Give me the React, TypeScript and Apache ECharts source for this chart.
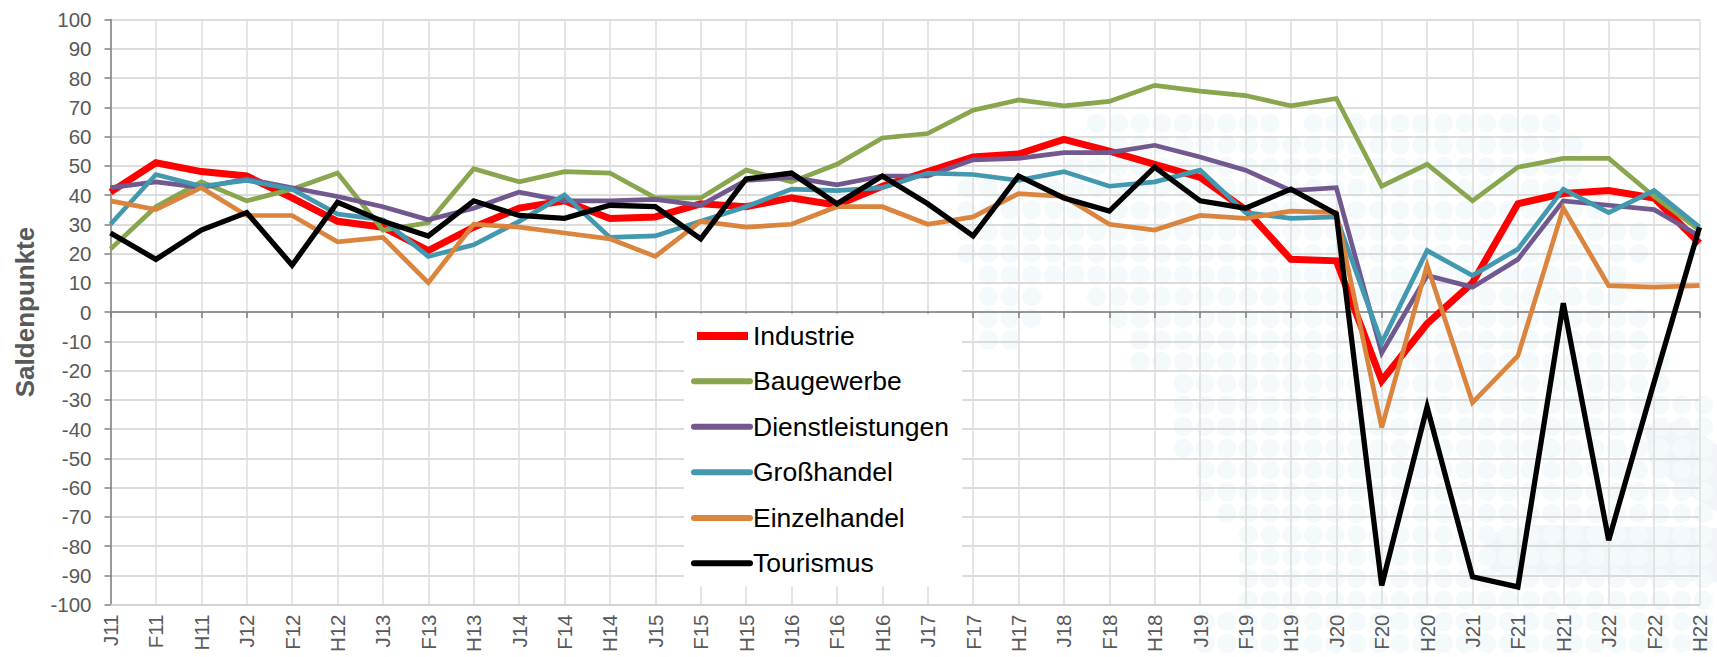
import React, { useEffect, useRef } from "react";
import * as echarts from "echarts";

const categories = ["J11","F11","H11","J12","F12","H12","J13","F13","H13","J14","F14","H14","J15","F15","H15","J16","F16","H16","J17","F17","H17","J18","F18","H18","J19","F19","H19","J20","F20","H20","J21","F21","H21","J22","F22","H22"];
const industrie = [41,51,48,46.5,39,31,29,21,29,35.5,38,32,32.5,37,36,39,36.5,43,48,53,54,59,55,50.5,46,35,18,17.5,-23.5,-4,10,37,40.5,41.5,39,23.5];
const baugewerbe = [21.5,36,44.5,38,42,47.5,28,30.5,49,44.5,48,47.5,39,39,48.5,44.5,50.5,59.5,61,69,72.5,70.5,72,77.5,75.5,74,70.5,73,43,50.5,38,49.5,52.5,52.5,39.5,28];
const dienstleistungen = [42.5,44.5,42.5,45.5,42.5,39.5,36,31.5,35.5,41,38,38,38.5,36.5,45,46,43.5,46.5,46.5,52,52.5,54.5,54.5,57,53,48.5,41.5,42.5,-14,12.5,8.5,18,38,36.5,35,26];
const grosshandel = [30,47,43,45,42,33.5,31.5,19,23,31,40,25.5,26,31,36,42,41.5,42.5,47.5,47,45,48,43,44.5,48.5,34,32,32.5,-10.5,21,12.5,21.5,42,34,41.5,29];
const einzelhandel = [38,35,42.5,33,33,24,25.5,10,30,29,27,25,19,31,29,30,36,36,30,32.5,40.5,39.5,30,28,33,32,34.5,34,-39.5,16,-31,-15,35.5,9,8.5,9];
const tourismus = [27,18,28,34,16,37.5,31,26,38,33,32,36.5,36,25,45.5,47.5,37,46.5,37,26,46.5,39,34.5,49.5,38,35.5,42,33.5,-93.5,-32.5,-90.5,-94,3,-78,-24,29];

const seriesDefs = [
  { name: "Industrie", data: industrie, color: "#ff0000", width: 7 },
  { name: "Baugewerbe", data: baugewerbe, color: "#89a54e", width: 4.7 },
  { name: "Dienstleistungen", data: dienstleistungen, color: "#71588f", width: 4.7 },
  { name: "Großhandel", data: grosshandel, color: "#4198af", width: 4.7 },
  { name: "Einzelhandel", data: einzelhandel, color: "#db843d", width: 4.7 },
  { name: "Tourismus", data: tourismus, color: "#000000", width: 5.3 },
];

// Faint background pattern of the reference: for each row of dots, the spans of columns it fills.
const watermarkRows: number[][][] = [
  [[0, 8], [10, 21]],
  [[0, 22]],
  [[-1, 22]],
  [[-6, 22]],
  [[-6, 23]],
  [[-6, 25]],
  [[-6, 25]],
  [[-5, 24]],
  [[-5, -3], [0, 24]],
  [[-5, -3], [1, 25]],
  [[-5, -4], [2, 25]],
  [[2, 26]],
  [[4, 26]],
  [[4, 28]],
  [[4, 28]],
  [[4, 28]],
  [[5, 28]],
  [[5, 28]],
  [[6, 28]],
  [[7, 28]],
  [[7, 28]],
  [[7, 28]],
  [[7, 28]],
  [[5, 28]],
  [[5, 28]],
];

export default function App() {
  const ref = useRef<HTMLDivElement>(null);
  useEffect(() => {
    const chart = echarts.init(ref.current!, null, { renderer: "svg" });
    const font = "Liberation Sans";
    const legendX = 694;
    const legendRows = [336, 381.3, 426.7, 472.3, 518, 563.3];
    const dots: any[] = [];
    watermarkRows.forEach((spans, r) => {
      spans.forEach(([a, b]) => {
        for (let k = a; k <= b; k++) {
          dots.push({
            type: "circle", silent: true, z: -2,
            shape: { cx: 1096.7 + k * 21.67, cy: 123.3 + r * 21.67, r: 9.6 },
            style: { fill: "#f4f9fc" },
          });
        }
      });
    });
    chart.setOption({
      animation: false,
      backgroundColor: "#ffffff",
      grid: { left: 110.5, right: 17.5, top: 19.5, bottom: 52.5, containLabel: false, outerBoundsMode: "none" },
      xAxis: [
        {
          type: "category", data: categories, boundaryGap: false, position: "bottom",
          axisLine: { show: true, onZero: false, lineStyle: { color: "#d0d0d0", width: 1.5 } },
          axisTick: { show: false },
          axisLabel: { interval: 0, rotate: 90, color: "#595959", fontSize: 20.5, fontFamily: font, margin: 10 },
          splitLine: { show: true, interval: 0, lineStyle: { color: "#dcdcdc", width: 1.5 } },
        },
        {
          type: "category", data: categories, boundaryGap: false, position: "bottom",
          axisLine: { show: true, onZero: true, lineStyle: { color: "#7f7f7f", width: 1.5 } },
          axisTick: { show: true, interval: 0, length: 6, lineStyle: { color: "#7f7f7f", width: 1.5 } },
          axisLabel: { show: false },
        },
      ],
      yAxis: {
        type: "value", min: -100, max: 100, interval: 10,
        name: "Saldenpunkte", nameLocation: "middle", nameGap: 73, nameMoveOverlap: false,
        nameTextStyle: { color: "#595959", fontSize: 26, fontWeight: "bold", fontFamily: font },
        axisLine: { show: true, onZero: false, lineStyle: { color: "#7f7f7f", width: 1.5 } },
        axisTick: { show: true, length: 6, lineStyle: { color: "#7f7f7f", width: 1.5 } },
        axisLabel: { color: "#595959", fontSize: 20.5, fontFamily: font, margin: 19 },
        splitLine: { show: true, lineStyle: { color: "#d0d0d0", width: 1.5 } },
      },
      series: seriesDefs.map((s) => ({
        name: s.name, type: "line", data: s.data, showSymbol: false, symbol: "none",
        lineStyle: { color: s.color, width: s.width, join: "miter", cap: "butt" },
        z: 5,
      })),
      graphic: [
        { type: "polygon", silent: true, z: -3, shape: { points: [[1484, 535], [1530, 525], [1717, 528], [1717, 582], [1490, 572]] }, style: { fill: "#eef3f9", opacity: 0.8 } },
        { type: "polygon", silent: true, z: -3, shape: { points: [[1644, 425], [1684, 422], [1717, 445], [1717, 512], [1684, 492], [1650, 462]] }, style: { fill: "#eef3f9", opacity: 0.8 } },
        ...dots,
        { type: "rect", shape: { x: 684, y: 313.5, width: 278, height: 273 }, style: { fill: "#ffffff" }, z: 6 },
        ...seriesDefs.flatMap((s, i) => [
          { type: "line", shape: { x1: i === 0 ? legendX + 3 : legendX, y1: legendRows[i], x2: i === 0 ? legendX + 54 : legendX + 56, y2: legendRows[i] }, style: { stroke: s.color, lineWidth: i === 0 ? 8 : 6, lineCap: i === 0 ? "butt" : "round" }, z: 7 },
          { type: "text", x: 753, y: legendRows[i], style: { text: s.name, fill: "#000000", font: `26.5px "${font}"`, textVerticalAlign: "middle", verticalAlign: "middle" }, z: 7 },
        ]),
      ],
    });
    return () => chart.dispose();
  }, []);
  return <div ref={ref} style={{ width: 1717, height: 657, position: "absolute", left: 0, top: 0 }} />;
}
